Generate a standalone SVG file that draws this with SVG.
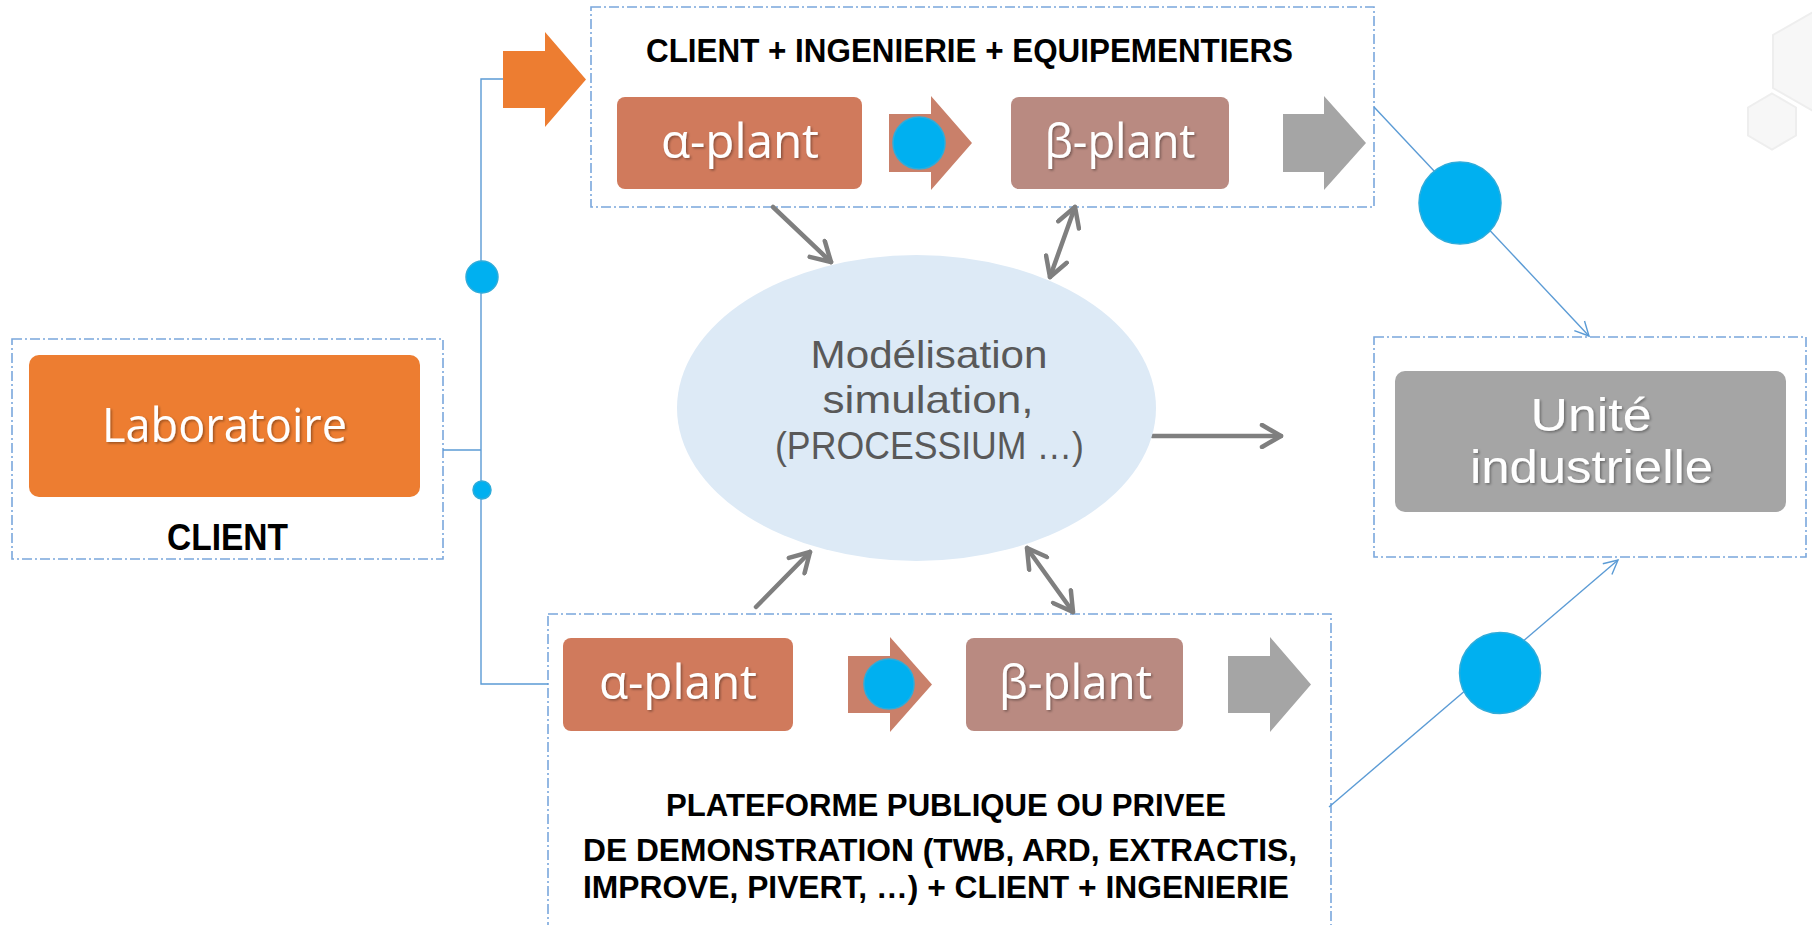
<svg xmlns="http://www.w3.org/2000/svg" width="1812" height="925" viewBox="0 0 1812 925">
<defs>
<style>
.zone{fill:none;stroke:#7AA7DC;stroke-width:1.6;stroke-dasharray:10 3 2 3}
.lbl{font-family:"Liberation Sans",Arial,sans-serif;font-weight:bold;fill:#000}
.wt{font-family:"Open Sans","DejaVu Sans",sans-serif;fill:#fff;filter:url(#sh)}
.wt2{font-family:"Liberation Sans",Arial,sans-serif;fill:#fff;filter:url(#sh)}
.mt{font-family:"Liberation Sans",Arial,sans-serif;fill:#595959}
.ga{fill:none;stroke:#7F7F7F;stroke-width:4.5;stroke-linecap:round}
.bl{fill:none;stroke:#5B9BD5;stroke-width:1.4}
.dot{fill:#00B0F0;stroke:#2FACDA;stroke-width:1.5}
.hex{fill:#F7F7F7;stroke:#EEEEEE;stroke-width:2}
</style>
<filter id="sh" x="-10%" y="-20%" width="130%" height="150%">
<feDropShadow dx="1.5" dy="1.5" stdDeviation="1" flood-color="#000" flood-opacity="0.35"/>
</filter>
<marker id="gh" viewBox="0 0 26 26" refX="22" refY="13" markerWidth="26" markerHeight="26" markerUnits="userSpaceOnUse" orient="auto-start-reverse">
<path d="M3,2 L22,13 L3,24" fill="none" stroke="#7F7F7F" stroke-width="4.5" stroke-linecap="round" stroke-linejoin="round"/>
</marker>
<marker id="bh" viewBox="0 0 18 18" refX="16" refY="9" markerWidth="18" markerHeight="18" markerUnits="userSpaceOnUse" orient="auto">
<path d="M2,2 L16,9 L2,16" fill="none" stroke="#5B9BD5" stroke-width="1.4"/>
</marker>
</defs>
<rect width="1812" height="925" fill="#fff"/>

<g id="decor">
<polygon class="hex" points="1819,8.5 1865,35 1865,88 1819,114.5 1773,88 1773,35"/>
<polygon class="hex" points="1772,93.5 1796,107.5 1796,135.5 1772,149.5 1748,135.5 1748,107.5"/>
</g>

<g id="zones">
<rect id="zone-client" class="zone" x="12" y="339" width="431" height="220"/>
<rect id="zone-top" class="zone" x="591" y="7" width="783" height="200"/>
<rect id="zone-unite" class="zone" x="1374" y="337" width="432" height="220"/>
<rect id="zone-bottom" class="zone" x="548" y="614" width="783" height="330"/>
</g>

<g id="connectors">
<path class="bl" d="M503,79 H481 V684 H548"/>
<path class="bl" d="M443,450 H481"/>
<line class="bl" x1="1374" y1="107" x2="1589" y2="336" marker-end="url(#bh)"/>
<line class="bl" x1="1329" y1="807" x2="1618" y2="560" marker-end="url(#bh)"/>
<line class="ga" x1="773" y1="207" x2="831" y2="262" marker-end="url(#gh)"/>
<line class="ga" x1="1075" y1="207" x2="1050" y2="277" marker-start="url(#gh)" marker-end="url(#gh)"/>
<line class="ga" x1="756" y1="607" x2="810" y2="552" marker-end="url(#gh)"/>
<line class="ga" x1="1027" y1="548" x2="1073" y2="612" marker-start="url(#gh)" marker-end="url(#gh)"/>
<line class="ga" x1="1152" y1="436" x2="1281" y2="436" marker-end="url(#gh)"/>
<circle class="dot" cx="482" cy="277" r="16"/>
<circle class="dot" cx="482" cy="490" r="9"/>
<circle class="dot" cx="1460" cy="203" r="41"/>
<circle class="dot" cx="1500" cy="673" r="40.5"/>
</g>

<g id="orange-arrow">
<polygon points="503,51 545,51 545,32 586,79.5 545,127 545,108 503,108" fill="#ED7D31"/>
</g>

<g id="laboratoire">
<rect x="29" y="355" width="391" height="142" rx="10" fill="#ED7D31"/>
<text class="wt" x="224.5" y="442" font-size="48" text-anchor="middle" textLength="245" lengthAdjust="spacingAndGlyphs">Laboratoire</text>
<text class="lbl" x="227.5" y="550" font-size="36" text-anchor="middle" textLength="121" lengthAdjust="spacingAndGlyphs">CLIENT</text>
</g>

<g id="top-title">
<text class="lbl" x="646" y="62" font-size="33" textLength="647" lengthAdjust="spacingAndGlyphs">CLIENT + INGENIERIE + EQUIPEMENTIERS</text>
</g>

<g id="alpha-top">
<rect x="617" y="97" width="245" height="92" rx="8" fill="#D07A5C"/>
<text class="wt" x="740" y="158" font-size="48" text-anchor="middle" textLength="158" lengthAdjust="spacingAndGlyphs">α-plant</text>
</g>
<g id="link-top">
<polygon points="889,114 931,114 931,96 972,143 931,190 931,172 889,172" fill="#C9806A"/>
<circle class="dot" cx="919" cy="143" r="26"/>
</g>
<g id="beta-top">
<rect x="1011" y="97" width="218" height="92" rx="8" fill="#B98A81"/>
<text class="wt" x="1120" y="158" font-size="48" text-anchor="middle" textLength="151" lengthAdjust="spacingAndGlyphs">β-plant</text>
</g>
<g id="out-top">
<polygon points="1283,114 1324,114 1324,96 1366,143 1324,190 1324,172 1283,172" fill="#A5A5A5"/>
</g>

<g id="modelisation">
<ellipse cx="916.5" cy="408" rx="239.5" ry="153" fill="#DDEAF6"/>
<text class="mt" x="929" y="368" font-size="39" text-anchor="middle" textLength="237" lengthAdjust="spacingAndGlyphs">Modélisation</text>
<text class="mt" x="928" y="413" font-size="39" text-anchor="middle" textLength="211" lengthAdjust="spacingAndGlyphs">simulation,</text>
<text class="mt" x="929.5" y="459" font-size="39" text-anchor="middle" textLength="309" lengthAdjust="spacingAndGlyphs">(PROCESSIUM …)</text>
</g>

<g id="unite">
<rect x="1395" y="371" width="391" height="141" rx="10" fill="#A5A5A5"/>
<text class="wt2" x="1591" y="431" font-size="46" text-anchor="middle" textLength="121" lengthAdjust="spacingAndGlyphs">Unité</text>
<text class="wt2" x="1591.5" y="483" font-size="46" text-anchor="middle" textLength="243" lengthAdjust="spacingAndGlyphs">industrielle</text>
</g>

<g id="alpha-bottom">
<rect x="563" y="638" width="230" height="93" rx="8" fill="#D07A5C"/>
<text class="wt" x="678" y="699" font-size="48" text-anchor="middle" textLength="158" lengthAdjust="spacingAndGlyphs">α-plant</text>
</g>
<g id="link-bottom">
<polygon points="848,656 890,656 890,637 932,684.5 890,732 890,713 848,713" fill="#C9806A"/>
<circle class="dot" cx="889" cy="684" r="25"/>
</g>
<g id="beta-bottom">
<rect x="966" y="638" width="217" height="93" rx="8" fill="#B98A81"/>
<text class="wt" x="1075.5" y="699" font-size="48" text-anchor="middle" textLength="153" lengthAdjust="spacingAndGlyphs">β-plant</text>
</g>
<g id="out-bottom">
<polygon points="1228,656 1270,656 1270,637 1311,684.5 1270,732 1270,713 1228,713" fill="#A5A5A5"/>
</g>

<g id="bottom-title">
<text class="lbl" x="946" y="816" font-size="32" text-anchor="middle" textLength="560" lengthAdjust="spacingAndGlyphs">PLATEFORME PUBLIQUE OU PRIVEE</text>
<text class="lbl" x="940" y="861" font-size="32" text-anchor="middle" textLength="714" lengthAdjust="spacingAndGlyphs">DE DEMONSTRATION (TWB, ARD, EXTRACTIS,</text>
<text class="lbl" x="936" y="898" font-size="32" text-anchor="middle" textLength="706" lengthAdjust="spacingAndGlyphs">IMPROVE, PIVERT, …) + CLIENT + INGENIERIE</text>
</g>
</svg>
